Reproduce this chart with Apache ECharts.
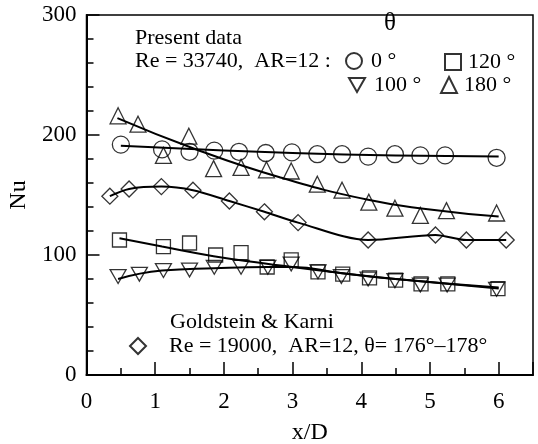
<!DOCTYPE html>
<html>
<head>
    <meta charset="utf-8">
    <title></title>
    <script src="https://cdn.jsdelivr.net/npm/echarts@6/dist/echarts.min.js"></script>
</head>
<style>
    body { margin: 0; background: #fff; }
    #chart_box { width: 538px; height: 444px; }
</style>
<body>
    <div id="chart_box"></div>
    <script>
        var xCirc = [0.5, 1.1, 1.5, 1.86, 2.22, 2.61, 2.99, 3.36, 3.72, 4.1, 4.49, 4.86, 5.22, 5.97];
        var yCirc = [192, 188, 186, 187, 186, 185, 185.5, 184, 184, 182, 184, 183, 183, 181];
        var xTriDn = [0.46, 0.77, 1.12, 1.5, 1.86, 2.25, 2.64, 2.98, 3.37, 3.71, 4.1, 4.49, 4.86, 5.25, 5.97];
        var yTriDn = [82, 84, 87, 87.5, 89.7, 89.7, 89.7, 92.5, 86, 82, 80, 78.6, 75, 75, 71.4];
        var xSq = [0.48, 1.12, 1.5, 1.88, 2.25, 2.63, 2.98, 3.37, 3.73, 4.12, 4.5, 4.87, 5.26, 5.99];
        var ySq = [112.5, 107, 110, 100, 102, 90, 96, 86, 84, 81, 79, 76, 76, 72];
        var xTriUp = [0.46, 0.75, 1.12, 1.49, 1.85, 2.25, 2.62, 2.98, 3.36, 3.72, 4.11, 4.49, 4.86, 5.24, 5.97];
        var yTriUp = [216, 209, 183, 199, 172, 173, 171, 170, 159, 154, 144, 139, 133, 137, 135];
        var xGK = [0.34, 0.62, 1.09, 1.55, 2.08, 2.59, 3.08, 4.1, 5.08, 5.53, 6.11];
        var yGK = [149, 155, 157, 154, 145, 136, 127, 112.5, 116.7, 112.5, 112.5];

        // 拟合曲线
        var xCircFit = [0.5, 2, 3, 4.5, 6];
        var yCircFit = [191, 187, 185, 183, 182];
        var xTriUpFit = [0.45, 1.55, 2.8, 4.1, 5, 6];
        var yTriUpFit = [214, 189, 165, 146, 138, 132];
        var xSqFit = [0.48, 1.1, 1.85, 2.6, 3.4, 4.5, 6];
        var ySqFit = [114, 107, 99, 93, 87, 80, 73];
        var xTriDnFit = [0.46, 1.1, 1.86, 2.64, 3.0, 3.7, 4.5, 6];
        var yTriDnFit = [80, 87, 89, 90, 90, 85, 80, 72];

        var serif = "'Liberation Serif', 'DejaVu Serif', serif";
        var triDown = 'path://M0,0L20,0L10,17.3Z';

        function pairs(xs, ys) {
            return xs.map(function(x, i) { return [x, ys[i]]; });
        }

        function markers(name, sym, size, xs, ys) {
            return {
                name: name,
                type: 'scatter',
                symbol: sym,
                symbolSize: size,
                symbolKeepAspect: true,
                data: pairs(xs, ys),
                itemStyle: { color: 'rgba(0,0,0,0)', borderColor: '#000', borderWidth: 1.3 },
                emphasis: { disabled: true },
                z: 3
            };
        }

        function fit(xs, ys, sm) {
            return {
                type: 'line',
                smooth: sm,
                showSymbol: false,
                data: pairs(xs, ys),
                lineStyle: { color: '#000', width: 2 },
                emphasis: { disabled: true },
                z: 2
            };
        }

        function legendAt(name, left, top, gap) {
            return {
                data: [name],
                left: left,
                top: top,
                padding: 0,
                itemWidth: 16,
                itemHeight: 16,
                selectedMode: false,
                textStyle: { fontFamily: serif, fontSize: 22, color: '#000', padding: [0, 0, 0, gap] }
            };
        }

        var myChart = echarts.init(document.getElementById('chart_box'));
        var option = {
            animation: false,
            grid: {
                left: 86.5,
                right: 5,
                top: 15,
                bottom: 69,
                outerBoundsMode: 'none',
                show: true,
                borderColor: '#000',
                borderWidth: 1.5
            },
            legend: [
                legendAt('0 °', 345, 50, 4),
                legendAt('120 °', 444, 51, 2),
                legendAt('100 °', 348, 74, 4),
                legendAt('180 °', 440, 74, 2),
                legendAt('Re = 19000,  AR=12, θ= 176°–178°', 129, 335, 18)
            ],
            xAxis: {
                type: 'value',
                min: 0,
                max: 6.5,
                interval: 1,
                name: 'x/D',
                nameLocation: 'middle',
                nameGap: 46,
                nameTextStyle: { fontFamily: serif, fontSize: 24, color: '#000' },
                axisLine: { lineStyle: { color: '#000', width: 2 } },
                axisTick: { inside: true, length: 13, lineStyle: { color: '#000', width: 1.5 } },
                minorTick: { show: true, splitNumber: 2, length: 7, lineStyle: { color: '#000', width: 1.5 } },
                splitLine: { show: false },
                axisLabel: { showMaxLabel: false, fontFamily: serif, fontSize: 23, color: '#000', margin: 15 }
            },
            yAxis: {
                type: 'value',
                min: 0,
                max: 300,
                interval: 100,
                name: 'Nu',
                nameLocation: 'middle',
                nameGap: 54,
                nameRotate: 90,
                nameTextStyle: { fontFamily: serif, fontSize: 24, color: '#000' },
                axisLine: { lineStyle: { color: '#000', width: 2 } },
                axisTick: { inside: true, length: 13, lineStyle: { color: '#000', width: 1.5 } },
                minorTick: { show: true, splitNumber: 5, length: 7, lineStyle: { color: '#000', width: 1.5 } },
                splitLine: { show: false },
                axisLabel: { fontFamily: serif, fontSize: 23, color: '#000', margin: 10 }
            },
            graphic: [
                { type: 'text', left: 135, top: 27, style: { text: 'Present data', font: '22px ' + serif, fill: '#000' } },
                { type: 'text', left: 384, top: 11, style: { text: 'θ', font: '25px ' + serif, fill: '#000' } },
                { type: 'text', left: 135, top: 50, style: { text: 'Re = 33740,  AR=12 :', font: '22px ' + serif, fill: '#000' } },
                { type: 'text', left: 170, top: 311, style: { text: 'Goldstein & Karni', font: '22px ' + serif, fill: '#000' } }
            ],
            series: [
                fit(xCircFit, yCircFit, true),
                fit(xTriUpFit, yTriUpFit, true),
                fit(xSqFit, ySqFit, true),
                fit(xTriDnFit, yTriDnFit, true),
                fit(xGK, yGK, 0.3),
                markers('0 °', 'circle', 17, xCirc, yCirc),
                markers('120 °', 'rect', 14, xSq, ySq),
                markers('100 °', triDown, 16, xTriDn, yTriDn),
                markers('180 °', 'triangle', 16, xTriUp, yTriUp),
                markers('Re = 19000,  AR=12, θ= 176°–178°', 'diamond', 16, xGK, yGK)
            ]
        };
        myChart.setOption(option);
    </script>
</body>
</html>
